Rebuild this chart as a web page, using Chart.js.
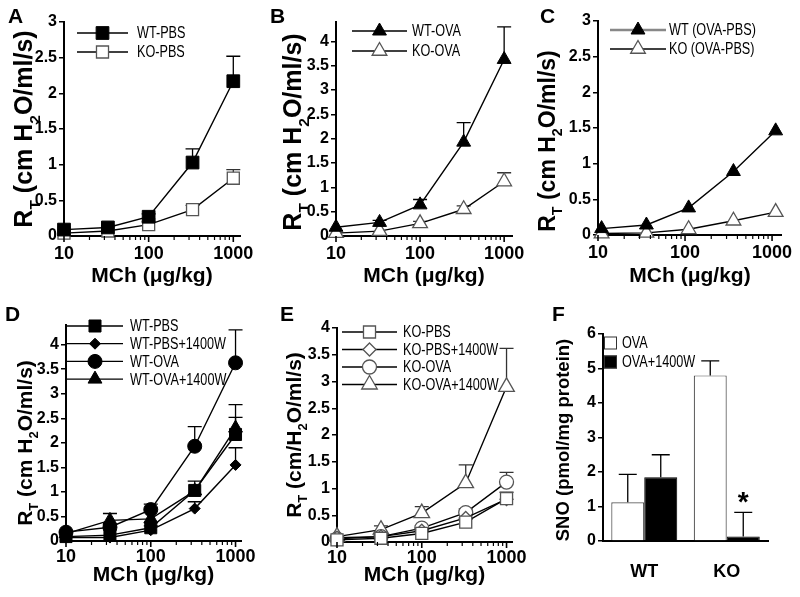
<!DOCTYPE html>
<html>
<head>
<meta charset="utf-8">
<title>Airway resistance and SNO</title>
<script src="https://cdn.jsdelivr.net/npm/chart.js@4.4.1/dist/chart.umd.min.js"></script>
<style>
  html, body { margin: 0; padding: 0; background: #fff; }
  #wrap { position: relative; width: 800px; height: 597px; overflow: hidden; }
  #wrap canvas { position: absolute; }
</style>
</head>
<body>
<div id="wrap">
  <canvas id="pA"></canvas>
  <canvas id="pB"></canvas>
  <canvas id="pC"></canvas>
  <canvas id="pD"></canvas>
  <canvas id="pE"></canvas>
  <canvas id="pF"></canvas>
</div>
<script>
// MCh doses (ug/kg)
const doses = [10, 33, 100, 330, 1000];
const dosesC = [11, 36, 110, 360, 1100];
const xTickVals = [10, 100, 1000];

// R_T, cm H2O/ml/s : means and top of the error bar
const wtPbs = [0.09, 0.12, 0.27, 1.03, 2.17];
const wtPbsErr = [null, null, 0.31, 1.22, 2.52];
const koPbs = [0.04, 0.07, 0.16, 0.37, 0.81];
const koPbsErr = [null, null, 0.2, 0.43, 0.93];
const wtOva = [0.18, 0.28, 0.64, 1.93, 3.63];
const wtOvaErr = [null, 0.32, 0.75, 2.33, 4.3];
const koOva = [0.06, 0.1, 0.26, 0.55, 1.12];
const koOvaErr = [null, null, 0.3, 0.62, 1.3];

// panel C: OVA minus PBS
const wtDiff = [0.09, 0.14, 0.38, 0.89, 1.46];
const koDiff = [0.02, 0.03, 0.08, 0.2, 0.32];

// 1400W treated
const wtPbs1400 = [0.07, 0.07, 0.22, 0.66, 1.55];
const wtPbs1400Err = [null, null, null, 0.8, 1.9];
const wtOva1400 = [0.15, 0.42, 0.45, 1.02, 2.3];
const wtOva1400Err = [null, 0.56, null, null, 2.78];
const koPbs1400 = [0.08, 0.1, 0.21, 0.45, 0.8];
const koPbs1400Err = [null, null, null, null, null];
const koOva1400 = [0.1, 0.23, 0.54, 1.1, 2.9];
const koOva1400Err = [null, 0.3, 0.66, 1.44, 3.62];

// panel F: SNO, pmol/mg protein
const groups = ['WT', 'KO'];
const snoOva = [1.12, 4.8];
const snoOvaErr = [1.93, 5.22];
const sno1400 = [1.85, 0.13];
const sno1400Err = [2.5, 0.83];
const snoMark = ['', '*'];

const yTicks3 = [0, 0.5, 1, 1.5, 2, 2.5, 3];
const yTicks4 = [0, 0.5, 1, 1.5, 2, 2.5, 3, 3.5, 4];
const yTicksF = [0, 1, 2, 3, 4, 5, 6];

const FONT = "'Liberation Sans', Arial, Helvetica, sans-serif";
const RT = [['R', 0], ['T', 1], [' (cm H', 0], ['2', 1], ['O/ml/s)', 0]];
const RT2 = [['R', 0], ['T', 1], [' (cm/H', 0], ['2', 1], ['O/ml/s)', 0]];

function marker(ctx, style, r, x, y) {
  ctx.beginPath();
  if (style === 'circle') {
    ctx.arc(x, y, r, 0, Math.PI * 2);
  } else if (style === 'rect') {
    const s = r * Math.SQRT1_2;
    ctx.rect(x - s, y - s, 2 * s, 2 * s);
  } else if (style === 'triangle') {
    ctx.moveTo(x, y - r);
    ctx.lineTo(x + r * 0.866, y + r / 2);
    ctx.lineTo(x - r * 0.866, y + r / 2);
    ctx.closePath();
  } else {
    ctx.moveTo(x, y - r);
    ctx.lineTo(x + r, y);
    ctx.lineTo(x, y + r);
    ctx.lineTo(x - r, y);
    ctx.closePath();
  }
  ctx.fill();
  ctx.stroke();
}

function errorBars(chart, cfg) {
  const ctx = chart.ctx, ys = chart.scales.y;
  chart.data.datasets.forEach((ds, di) => {
    if (!ds.errTop) return;
    chart.getDatasetMeta(di).data.forEach((el, i) => {
      const e = ds.errTop[i];
      if (e != null) {
        const yt = ys.getPixelForValue(e);
        ctx.save();
        ctx.strokeStyle = ds.errColor || '#000';
        ctx.lineWidth = 1.3;
        ctx.beginPath();
        ctx.moveTo(el.x, el.y);
        ctx.lineTo(el.x, yt);
        ctx.moveTo(el.x - cfg.cap / 2, yt);
        ctx.lineTo(el.x + cfg.cap / 2, yt);
        ctx.stroke();
        if (ds.annot && ds.annot[i]) {
          ctx.fillStyle = '#000';
          ctx.font = 'bold 28px ' + FONT;
          ctx.textAlign = 'center';
          ctx.textBaseline = 'alphabetic';
          ctx.fillText(ds.annot[i], el.x, yt - 1);
        }
        ctx.restore();
      }
    });
  });
}

function richTitle(ctx, parts, cx, cy, size) {
  const sub = size * 0.62;
  ctx.save();
  ctx.translate(cx, cy);
  ctx.rotate(-Math.PI / 2);
  let w = 0;
  parts.forEach(p => {
    ctx.font = 'bold ' + (p[1] ? sub : size) + 'px ' + FONT;
    w += ctx.measureText(p[0]).width;
  });
  let x = -w / 2;
  ctx.textAlign = 'left';
  ctx.textBaseline = 'alphabetic';
  parts.forEach(p => {
    ctx.font = 'bold ' + (p[1] ? sub : size) + 'px ' + FONT;
    ctx.fillText(p[0], x, size * 0.36 + (p[1] ? size * 0.3 : 0));
    x += ctx.measureText(p[0]).width;
  });
  ctx.restore();
}

function drawLegend(chart, L, ox, oy) {
  const ctx = chart.ctx;
  chart.data.datasets.forEach((ds, k) => {
    const y = L.y + k * L.dy - oy;
    ctx.save();
    if (L.box) {
      ctx.fillStyle = ds.backgroundColor;
      ctx.strokeStyle = '#333';
      ctx.lineWidth = 1;
      ctx.fillRect(L.x1 - ox, y - L.box / 2, L.box, L.box);
      ctx.strokeRect(L.x1 - ox + 0.5, y - L.box / 2 + 0.5, L.box - 1, L.box - 1);
    } else {
      ctx.strokeStyle = ds.legendLine || '#000';
      ctx.lineWidth = ds.legendWidth || 1.3;
      ctx.beginPath();
      ctx.moveTo(L.x1 - ox, y);
      ctx.lineTo(L.x2 - ox, y);
      ctx.stroke();
      ctx.fillStyle = ds.pointBackgroundColor;
      ctx.strokeStyle = ds.pointBorderColor;
      ctx.lineWidth = ds.pointBorderWidth;
      marker(ctx, ds.pointStyle, ds.pointRadius, (L.x1 + L.x2) / 2 - ox, y);
    }
    ctx.translate(L.tx - ox, y);
    ctx.scale(0.79, 1);
    ctx.fillStyle = '#000';
    ctx.font = '16px ' + FONT;
    ctx.textAlign = 'left';
    ctx.textBaseline = 'middle';
    ctx.fillText(ds.label, 0, 1);
    ctx.restore();
  });
}

function deco(cfg) {
  return {
    id: 'deco',
    beforeDatasetsDraw(chart) { if (!cfg.errFront) errorBars(chart, cfg); },
    afterDatasetsDraw(chart) { if (cfg.errFront) errorBars(chart, cfg); },
    afterDraw(chart) {
      const ctx = chart.ctx, a = chart.chartArea, ox = cfg.ox, oy = cfg.oy;
      ctx.save();
      ctx.fillStyle = '#000';
      ctx.strokeStyle = '#000';
      ctx.font = 'bold 21px ' + FONT;
      ctx.textAlign = 'left';
      ctx.textBaseline = 'alphabetic';
      ctx.fillText(cfg.letter[0], cfg.letter[1] - ox, cfg.letter[2] - oy);
      if (cfg.logTicks) {
        const xs = chart.scales.x;
        for (let d = 10; d <= xs.max; d *= 10) {
          for (let m = 1; m < 10; m++) {
            const v = m * d;
            if (v > xs.max) break;
            const px = xs.getPixelForValue(v);
            ctx.lineWidth = m === 1 ? 1.6 : 1.2;
            ctx.beginPath();
            ctx.moveTo(px, a.bottom);
            ctx.lineTo(px, a.bottom + (m === 1 ? 6 : 4));
            ctx.stroke();
          }
        }
      }
      if (cfg.xTitle) {
        ctx.font = 'bold 21px ' + FONT;
        ctx.textAlign = 'center';
        ctx.textBaseline = 'middle';
        ctx.fillText(cfg.xTitle, (a.left + a.right) / 2, cfg.xTitleY - oy);
      }
      richTitle(ctx, cfg.yTitle, cfg.yTitleX - ox, cfg.yTitleY - oy, cfg.yTitleSize);
      drawLegend(chart, cfg.legend, ox, oy);
      ctx.restore();
    }
  };
}

function place(id, rect, cfg) {
  const cv = document.getElementById(id);
  cv.width = rect[2];
  cv.height = rect[3];
  cv.style.left = rect[0] + 'px';
  cv.style.top = rect[1] + 'px';
  cfg.ox = rect[0];
  cfg.oy = rect[1];
  return cv;
}

function lineSet(label, xs, ys, err, style, r, open) {
  return {
    label: label,
    data: xs.map((x, i) => ({ x: x, y: ys[i] })),
    errTop: err,
    errColor: open ? '#333' : '#000',
    borderColor: '#000',
    borderWidth: 1.4,
    pointStyle: style,
    pointRadius: r,
    pointHoverRadius: r,
    pointBackgroundColor: open ? '#fff' : '#000',
    pointBorderColor: open ? '#555' : '#000',
    pointBorderWidth: open ? 1.3 : 1,
    tension: 0,
    fill: false,
    clip: false
  };
}

function axisY(rect, box, yMax, yTicks) {
  return {
    min: 0, max: yMax,
    afterBuildTicks: s => { s.ticks = yTicks.map(v => ({ value: v })); },
    afterFit: s => { s.width = box.l - rect[0]; },
    grid: { drawOnChartArea: false, drawTicks: true, tickLength: 5, color: '#000', lineWidth: 1.5 },
    border: { display: true, color: '#000', width: 2 },
    ticks: { color: '#000', font: { family: FONT, size: 16, weight: 'bold' }, padding: 2, callback: v => String(v) }
  };
}

function lineChart(id, rect, box, cfg, datasets, xMax, yMax, yTicks, xPad) {
  const cv = place(id, rect, cfg);
  cfg.cap = 14;
  cfg.logTicks = true;
  return new Chart(cv, {
    type: 'line',
    data: { datasets: datasets },
    options: {
      responsive: false, animation: false, events: [],
      layout: { padding: { left: 0, top: box.t - rect[1], right: rect[0] + rect[2] - box.r, bottom: 0 } },
      plugins: { legend: { display: false }, tooltip: { enabled: false } },
      scales: {
        x: {
          type: 'logarithmic', min: 10, max: xMax,
          afterBuildTicks: s => { s.ticks = xTickVals.map(v => ({ value: v })); },
          afterFit: s => { s.height = rect[1] + rect[3] - box.b; },
          grid: { display: false, drawTicks: false },
          border: { display: true, color: '#000', width: 2 },
          ticks: { color: '#000', font: { family: FONT, size: 18, weight: 'bold' }, padding: xPad,
                   maxRotation: 0, autoSkip: false, callback: v => String(v) }
        },
        y: axisY(rect, box, yMax, yTicks)
      }
    },
    plugins: [deco(cfg)]
  });
}

// A
lineChart('pA', [0, 0, 267, 292], { l: 64, t: 22, r: 240, b: 236 }, {
  letter: ['A', 8, 23], xTitle: 'MCh (\u03bcg/kg)', xTitleY: 276,
  yTitle: RT, yTitleX: 23, yTitleY: 129, yTitleSize: 25,
  legend: { x1: 77, x2: 128, y: 33, dy: 19, tx: 137 }
}, [
  lineSet('WT-PBS', doses, wtPbs, wtPbsErr, 'rect', 9, false),
  lineSet('KO-PBS', doses, koPbs, koPbsErr, 'rect', 8.5, true)
], 1200, 3, yTicks3, 7);

// B
lineChart('pB', [267, 0, 266, 292], { l: 336, t: 22, r: 512, b: 236 }, {
  letter: ['B', 270, 23], xTitle: 'MCh (\u03bcg/kg)', xTitleY: 276,
  yTitle: RT, yTitleX: 292, yTitleY: 132, yTitleSize: 25,
  legend: { x1: 352, x2: 407, y: 31, dy: 20, tx: 412 }
}, [
  lineSet('WT-OVA', doses, wtOva, wtOvaErr, 'triangle', 8, false),
  lineSet('KO-OVA', doses, koOva, koOvaErr, 'triangle', 8.5, true)
], 1240, 4.4, yTicks4, 7);

// C
const setsC = [
  lineSet('WT (OVA-PBS)', dosesC, wtDiff, null, 'triangle', 8, false),
  lineSet('KO (OVA-PBS)', dosesC, koDiff, null, 'triangle', 8.5, true)
];
setsC[0].legendLine = '#888';
setsC[0].legendWidth = 2.5;
lineChart('pC', [533, 0, 267, 292], { l: 598, t: 21, r: 783, b: 235 }, {
  letter: ['C', 540, 23], xTitle: 'MCh (\u03bcg/kg)', xTitleY: 276,
  yTitle: RT, yTitleX: 547, yTitleY: 141, yTitleSize: 23,
  legend: { x1: 610, x2: 666, y: 30, dy: 19, tx: 669 }
}, setsC, 1300, 3, yTicks3, 7);

// D
lineChart('pD', [0, 292, 267, 305], { l: 66, t: 325, r: 241, b: 541 }, {
  letter: ['D', 5, 321], xTitle: 'MCh (\u03bcg/kg)', xTitleY: 575,
  yTitle: RT, yTitleX: 24, yTitleY: 443, yTitleSize: 21,
  legend: { x1: 67, x2: 123, y: 326, dy: 17.7, tx: 130 }
}, [
  lineSet('WT-PBS', doses, wtPbs, wtPbsErr, 'rect', 8.5, false),
  lineSet('WT-PBS+1400W', doses, wtPbs1400, wtPbs1400Err, 'rectRot', 5.5, false),
  lineSet('WT-OVA', doses, wtOva, wtOvaErr, 'circle', 7, false),
  lineSet('WT-OVA+1400W', doses, wtOva1400, wtOva1400Err, 'triangle', 8, false)
], 1160, 4.4, yTicks4, 5);

// E
lineChart('pE', [267, 292, 266, 305], { l: 337, t: 328, r: 512, b: 542 }, {
  letter: ['E', 280, 321], xTitle: 'MCh (\u03bcg/kg)', xTitleY: 575,
  yTitle: RT2, yTitleX: 293, yTitleY: 435, yTitleSize: 21,
  legend: { x1: 342, x2: 397, y: 332, dy: 17.5, tx: 403 }
}, [
  lineSet('KO-PBS', doses, koPbs, koPbsErr, 'rect', 8.5, true),
  lineSet('KO-PBS+1400W', doses, koPbs1400, koPbs1400Err, 'rectRot', 6.5, true),
  lineSet('KO-OVA', doses, koOva, koOvaErr, 'circle', 7, true),
  lineSet('KO-OVA+1400W', doses, koOva1400, koOva1400Err, 'triangle', 9, true)
], 1160, 4, yTicks4, 5);

// F
const rectF = [533, 292, 267, 305];
const boxF = { l: 603, t: 334, r: 768, b: 541 };
const cfgF = {
  letter: ['F', 552, 321], cap: 18, errFront: true,
  yTitle: [['SNO (pmol/mg protein)', 0]], yTitleX: 562, yTitleY: 440, yTitleSize: 18.5,
  legend: { box: 13, x1: 604, y: 343, dy: 19, tx: 622 }
};
new Chart(place('pF', rectF, cfgF), {
  type: 'bar',
  data: {
    labels: groups,
    datasets: [
      { label: 'OVA', data: snoOva, errTop: snoOvaErr, backgroundColor: '#fff', borderColor: '#555',
        borderWidth: 1.2, barPercentage: 1, categoryPercentage: 0.8 },
      { label: 'OVA+1400W', data: sno1400, errTop: sno1400Err, annot: snoMark, backgroundColor: '#000',
        borderColor: '#000', borderWidth: 1, barPercentage: 1, categoryPercentage: 0.8 }
    ]
  },
  options: {
    responsive: false, animation: false, events: [],
    layout: { padding: { left: 0, top: boxF.t - rectF[1], right: rectF[0] + rectF[2] - boxF.r, bottom: 0 } },
    plugins: { legend: { display: false }, tooltip: { enabled: false } },
    scales: {
      x: {
        afterFit: s => { s.height = rectF[1] + rectF[3] - boxF.b; },
        grid: { display: false, drawTicks: false },
        border: { display: true, color: '#000', width: 2 },
        ticks: { color: '#000', font: { family: FONT, size: 18, weight: 'bold' }, padding: 20 }
      },
      y: axisY(rectF, boxF, 6, yTicksF)
    }
  },
  plugins: [deco(cfgF)]
});
</script>
</body>
</html>
